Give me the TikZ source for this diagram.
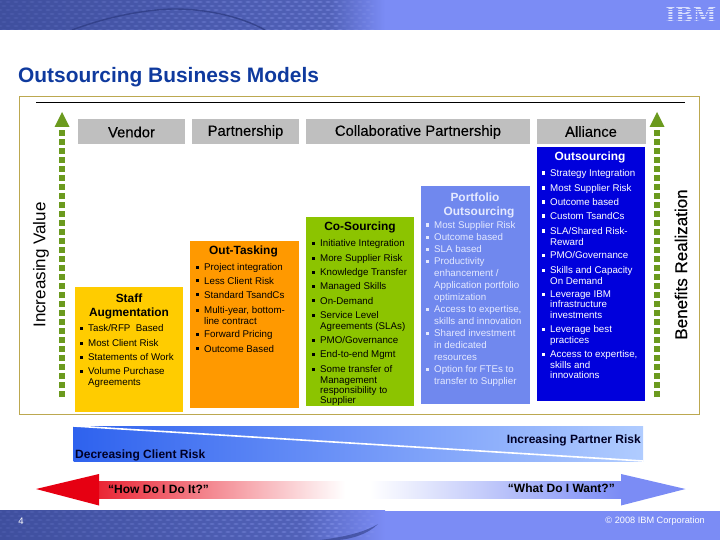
\documentclass[tikz,border=0pt]{standalone}
\usepackage{fontspec}
\setmainfont{Liberation Sans}
\newfontfamily\logofont{DejaVu Serif}
\newfontfamily\hdrfont[FakeBold=0.3]{Liberation Sans}
\definecolor{band}{HTML}{7B8CF5}
\definecolor{bandd}{HTML}{3F4F9E}
\definecolor{banddd}{HTML}{2F3D85}
\definecolor{frameol}{HTML}{BCA850}
\definecolor{hdr}{HTML}{BFBFBF}
\definecolor{arrowg}{HTML}{6B9A1E}
\definecolor{gold}{HTML}{FFCC00}
\definecolor{orangeb}{HTML}{FF9900}
\definecolor{greenb}{HTML}{8CC400}
\definecolor{perib}{HTML}{7088EE}
\definecolor{blueb}{HTML}{0000DC}
\definecolor{titleb}{HTML}{0F3A9E}
\definecolor{redb}{HTML}{E60012}
\definecolor{lighttxt}{HTML}{E4E9FF}
\definecolor{riska}{HTML}{2E62EE}
\definecolor{riskb}{HTML}{7096F8}
\definecolor{riskc}{HTML}{B0CCFF}
\tikzset{
  hdrbox/.style={fill=hdr,inner sep=0pt,text=black,font=\hdrfont\fontsize{14.8}{16}\selectfont,minimum height=25pt},
  colbox/.style={inner sep=0pt,draw=none},
  boxtitle/.style={inner sep=0pt,font=\bfseries\fontsize{11.9}{14}\selectfont},
  itemtxt/.style={inner sep=0pt,anchor=north west,align=left,font=\fontsize{9.75}{10.2}\selectfont},
  dotline/.style={line width=6pt,arrowg,dash pattern=on 6pt off 3pt},
  sidetxt/.style={inner sep=0pt,rotate=90,font=\fontsize{17}{18}\selectfont},
  risktxt/.style={inner sep=0pt,font=\bfseries\fontsize{12}{13}\selectfont,text=black!85!blue},
}
\newcounter{itm}
\def\bcol{black}
\newcommand{\bl}[3]{\stepcounter{itm}%
  \fill[\bcol] (#1-8.2,#2-1.5) rectangle ++(3.1,3.1);
  \node[itemtxt] (itm\theitm) at (#1,#2-3.4) {\rule{0pt}{6.8pt}#3};}
\newcommand{\texture}[2]{% y0, rows
  \foreach \c in {0,...,46}{
    \pgfmathsetmacro{\op}{min(0.42,0.10+0.006*\c)*(\c>42?0.5:1)}
    \foreach \r in {0,...,#2}{
      \fill[band!80!white,opacity=\op] ({\c*8+mod(\r,2)*4},{#1+\r*4}) ellipse (2.6pt and 0.9pt);
    }
  }
}
\begin{document}
\begin{tikzpicture}[x=1pt,y=-1pt]
\useasboundingbox (0,0) rectangle (720,540);
% top band
\fill[band] (0,0) rectangle (720,30);
\shade[left color=bandd,right color=bandd!70!band] (0,0) rectangle (330,30);
\shade[left color=bandd!70!band,right color=band] (330,0) rectangle (385,30);
\begin{scope}
\clip (0,0) rectangle (385,30);
\texture{2}{7}
\draw[banddd,line width=1.4pt,opacity=.8] (72,30) .. controls (120,12) and (160,9) .. (175,9) .. controls (205,9) and (240,16) .. (265,30);
\end{scope}
% IBM logo
\node[inner sep=0pt,text=white!70!band,font=\logofont\bfseries\fontsize{21}{22}\selectfont] (ibm) at (691,14.5) {IBM};
\foreach \yy in {6.5,9,11.5,14,16.5,19,21.5}{\fill[band] (662,\yy) rectangle (720,\yy+0.9);}
% title
\node[inner sep=0pt,anchor=base west,text=titleb,font=\bfseries\fontsize{20.9}{23}\selectfont] (title) at (18,83) {Outsourcing Business Models};
% frame
\node[draw=frameol,line width=0.8pt,fill=white,inner sep=0pt,minimum width=680pt,minimum height=318pt] (frame) at (359,255) {};
\coordinate (rulea) at (36,102); \coordinate (ruleb) at (685,102);
\draw[black,line width=0.8pt] (rulea) -- (ruleb);
% side arrows
\coordinate (la) at (62,397); \coordinate (lb) at (62,130);
\draw[dotline] (la) -- (lb);
\fill[arrowg] (62,112) -- (69.5,127) -- (54.5,127) -- cycle;
\coordinate (ra) at (657,397); \coordinate (rb) at (657,130);
\draw[dotline] (ra) -- (rb);
\fill[arrowg] (657,112) -- (664.5,127) -- (649.5,127) -- cycle;
\node[sidetxt] (incval) at (41,265) {Increasing Value};
\node[sidetxt] (benef) at (681,264.5) {\hdrfont Benefits Realization};
% headers
\node[hdrbox,minimum width=107pt] (vendor) at (131.5,132) {Vendor};
\node[hdrbox,minimum width=107pt] (partner) at (245.5,132) {Partnership};
\node[hdrbox,minimum width=224pt] (collab) at (418,132) {Collaborative Partnership};
\node[hdrbox,minimum width=109pt] (alliance) at (591,131.5) {Alliance};
% boxes
\node[colbox,fill=gold,minimum width=108pt,minimum height=125pt] (staff) at (129,349.5) {};
\node[colbox,fill=orangeb,minimum width=109pt,minimum height=167pt] (outt) at (244.5,324.5) {};
\node[colbox,fill=greenb,minimum width=108pt,minimum height=189pt] (cosrc) at (360,311.5) {};
\node[colbox,fill=perib,minimum width=109pt,minimum height=218pt] (portf) at (475.5,295) {};
\node[colbox,fill=blueb,minimum width=108pt,minimum height=254pt] (outs) at (591,274) {};
% staff
\node[boxtitle] (t1) at (129,298) {Staff};
\node[boxtitle] (t2) at (129,313) {Augmentation};
\bl{88}{328}{Task/RFP\ \ Based}
\bl{88}{343}{Most Client Risk}
\bl{88}{357}{Statements of Work}
\bl{88}{371}{Volume Purchase\\Agreements}
% out-tasking
\node[boxtitle] (t3) at (243.5,251) {Out-Tasking};
\bl{204}{267}{Project integration}
\bl{204}{280.5}{Less Client Risk}
\bl{204}{294.5}{Standard TsandCs}
\bl{204}{310}{Multi-year, bottom-\\line contract}
\bl{204}{334}{Forward Pricing}
\bl{204}{348.5}{Outcome Based}
% co-sourcing
\node[boxtitle] (t4) at (360,227) {Co-Sourcing};
\bl{320}{243}{Initiative Integration}
\bl{320}{258}{More Supplier Risk}
\bl{320}{272}{Knowledge Transfer}
\bl{320}{286}{Managed Skills}
\bl{320}{300.5}{On-Demand}
\bl{320}{315}{Service Level\\Agreements (SLAs)}
\bl{320}{340}{PMO/Governance}
\bl{320}{354}{End-to-end Mgmt}
\bl{320}{369}{Some transfer of\\Management\\responsibility to\\Supplier}
% portfolio
\def\bcol{lighttxt}
\begin{scope}[every node/.append style={text=lighttxt}]
\node[boxtitle] (t5) at (475,197) {Portfolio};
\node[boxtitle] (t6) at (479,212) {Outsourcing};
\tikzset{itemtxt/.append style={font=\fontsize{9.75}{12}\selectfont}}
\bl{434}{225}{Most Supplier Risk}
\bl{434}{237}{Outcome based}
\bl{434}{249}{SLA based}
\bl{434}{261}{Productivity\\enhancement /\\Application portfolio\\optimization}
\bl{434}{309}{Access to expertise,\\skills and innovation}
\bl{434}{333}{Shared investment\\in dedicated\\resources}
\bl{434}{369}{Option for FTEs to\\transfer to Supplier}
\end{scope}
% outsourcing
\def\bcol{white}
\begin{scope}[every node/.append style={text=white}]
\node[boxtitle] (t7) at (590,157) {Outsourcing};
\bl{550}{173}{Strategy Integration}
\bl{550}{188}{Most Supplier Risk}
\bl{550}{202}{Outcome based}
\bl{550}{216}{Custom TsandCs}
\bl{550}{231}{SLA/Shared Risk-\\Reward}
\bl{550}{255}{PMO/Governance}
\bl{550}{270}{Skills and Capacity\\On Demand}
\bl{550}{294}{Leverage IBM\\infrastructure\\investments}
\bl{550}{329}{Leverage best\\practices}
\bl{550}{354}{Access to expertise,\\skills and\\innovations}
\end{scope}
% risk bar
\shade[left color=riska,right color=riskc,middle color=riskb] (73.5,426) rectangle (643,461.5);
\coordinate (wa) at (73.5,426); \coordinate (wb) at (643,461);
\draw[white,line width=1.6pt] (wa) -- (wb);
\node[risktxt,anchor=east] (incr) at (641,440) {Increasing Partner Risk};
\node[risktxt,anchor=west] (decr) at (75,455) {Decreasing Client Risk};
% bottom arrows
\shade[left color=redb!85!white,right color=white] (99,481) rectangle (345,498);
\fill[redb] (36,489) -- (99,474) -- (99,505.5) -- cycle;
\shade[left color=white,right color=band] (370,481) rectangle (621,498);
\fill[band] (685.5,489) -- (621,474) -- (621,505.5) -- cycle;
\node[risktxt,anchor=west,text=black] (how) at (108,489) {“How Do I Do It?”};
\node[risktxt,anchor=east,text=black] (what) at (615,488) {“What Do I Want?”};
% footer
\fill[band] (0,510.5) rectangle (720,540);
\shade[left color=bandd,right color=bandd!70!band] (0,510.5) rectangle (300,540);
\shade[left color=bandd!70!band,right color=band] (300,510.5) rectangle (385,540);
\begin{scope}
\clip (0,510.5) rectangle (385,540);
\texture{512}{6}
\fill[banddd,opacity=.6] (320,540) .. controls (345,537) and (365,532) .. (378,524) .. controls (368,534) and (352,539) .. (338,540) -- cycle;
\end{scope}
\node[inner sep=0pt,text=white,font=\fontsize{9.5}{11}\selectfont] (pg) at (21,521.5) {4};
\node[inner sep=0pt,anchor=east,text=white,font=\fontsize{9.2}{11}\selectfont] (copy) at (705,521.5) {© 2008 IBM Corporation};
\end{tikzpicture}
\end{document}
